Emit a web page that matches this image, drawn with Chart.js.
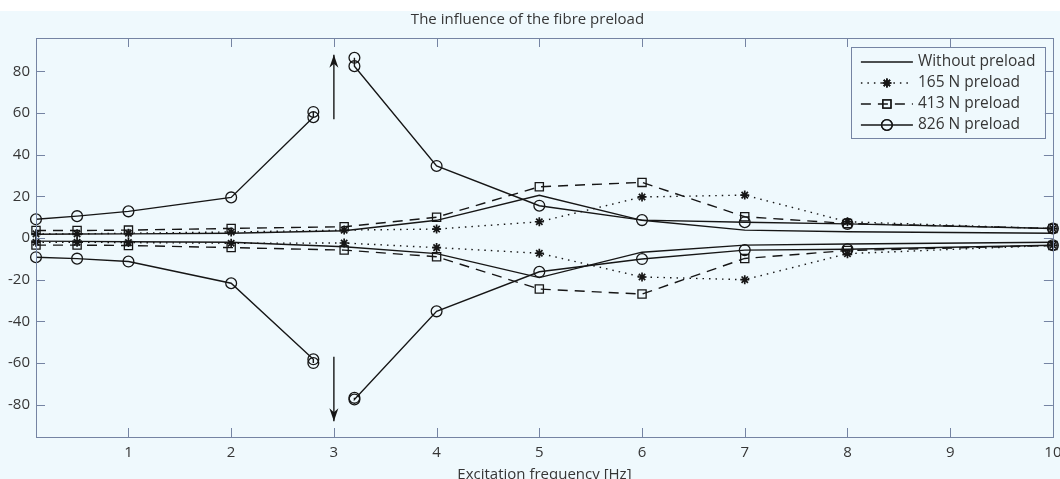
<!DOCTYPE html>
<html>
<head>
<meta charset="utf-8">
<title>The influence of the fibre preload</title>
<script src="https://cdn.jsdelivr.net/npm/chart.js@4.4.0/dist/chart.umd.min.js"></script>
<style>
  html, body { margin: 0; padding: 0; background: #ffffff; }
  #chart { display: block; }
</style>
</head>
<body>
<canvas id="chart" width="1060" height="479"></canvas>
<script>
// excitation frequencies [Hz]
const freq = [0.1, 0.5, 1, 2, 3.1, 4, 5, 6, 7, 8, 10];
const freq826 = [0.1, 0.5, 1, 2, 2.8, 2.8, 3, 3.2, 3.2, 4, 5, 6, 7, 8, 10];

// upper / lower envelopes
const noPreloadUp = [1.8, 1.9, 2, 2.3, 3.5, 8.5, 20.5, 8.5, 3.8, 3, 2.3];
const noPreloadLow = [-1.5, -1.6, -1.8, -2, -4.2, -7.5, -19, -6.8, -3.4, -2.9, -2];
const p165Up = [2, 2, 2.3, 2.9, 3.8, 4.3, 7.8, 19.7, 20.6, 7.8, 4.5];
const p165Low = [-2, -2, -2.2, -2.5, -2.4, -4.6, -7.3, -18.7, -20, -7.5, -3.5];
const p413Up = [3.6, 3.6, 3.8, 4.6, 5.4, 10, 24.6, 26.7, 10.2, 7, 4.6];
const p413Low = [-3.4, -3.4, -3.6, -4.6, -5.8, -9, -24.5, -26.9, -9.8, -6, -3.6];
const p826Up = [9, 10.5, 12.8, 19.5, 58, 60.5, null, 86.5, 82.5, 34.6, 15.5, 8.6, 7.6, 6.8, 4.6];
const p826Low = [-9.2, -9.9, -11.3, -21.7, -58.2, -60, null, -76.7, -77.5, -35.2, -16.2, -10.1, -5.8, -5.4, -3.5];

// resonance arrows at 3 Hz
const arrowX = 3;
const arrowUp = [57, 88];
const arrowDown = [-57, -88];

const xTicks = [1, 2, 3, 4, 5, 6, 7, 8, 9, 10];
const yTicks = [-80, -60, -40, -20, 0, 20, 40, 60, 80];

const ink = '#161616';
const axisColor = '#7584a3';
const textColor = '#363636';
const bgColor = '#eff9fd';
const fontFamily = '"Open Sans", "DejaVu Sans", sans-serif';

function toPoints(xs, ys) {
  return xs.map((x, i) => ({ x: x, y: ys[i] }));
}

const styles = {
  none: { borderDash: [], pointStyle: 'circle', pointRadius: 0 },
  p165: { borderDash: [1.5, 5], pointStyle: 'star', pointRadius: 4.5 },
  p413: { borderDash: [10, 7], pointStyle: 'rect', pointRadius: 5.8 },
  p826: { borderDash: [], pointStyle: 'circle', pointRadius: 5.4 }
};

function makeSet(label, xs, ys, st, inLegend) {
  return {
    label: label,
    inLegend: inLegend,
    data: toPoints(xs, ys),
    borderColor: ink,
    borderWidth: 1.4,
    borderDash: st.borderDash,
    pointStyle: st.pointStyle,
    pointRadius: st.pointRadius,
    pointHoverRadius: st.pointRadius,
    pointBorderColor: ink,
    pointBackgroundColor: 'rgba(0,0,0,0)',
    pointBorderWidth: st.pointStyle === 'star' ? 1.7 : 1.3,
    fill: false,
    tension: 0,
    spanGaps: false,
    clip: false
  };
}

const datasets = [
  makeSet('Without preload', freq, noPreloadUp, styles.none, true),
  makeSet('Without preload', freq, noPreloadLow, styles.none, false),
  makeSet('165 N preload', freq, p165Up, styles.p165, true),
  makeSet('165 N preload', freq, p165Low, styles.p165, false),
  makeSet('413 N preload', freq, p413Up, styles.p413, true),
  makeSet('413 N preload', freq, p413Low, styles.p413, false),
  makeSet('826 N preload', freq826, p826Up, styles.p826, true),
  makeSet('826 N preload', freq826, p826Low, styles.p826, false),
  makeSet('arrow', [arrowX, arrowX], arrowUp, styles.none, false),
  makeSet('arrow', [arrowX, arrowX], arrowDown, styles.none, false)
];

function drawArrowHead(ctx, x, yTip, dir) {
  // dir = -1 points up, +1 points down (canvas coordinates)
  const len = 13, half = 4.5, notch = 9;
  ctx.beginPath();
  ctx.moveTo(x, yTip);
  ctx.lineTo(x - half, yTip - dir * len);
  ctx.lineTo(x, yTip - dir * notch);
  ctx.lineTo(x + half, yTip - dir * len);
  ctx.closePath();
  ctx.fill();
}

function strokeMarker(ctx, style, r, x, y) {
  if (!r) return;
  Chart.helpers.drawPoint(ctx, { pointStyle: style, rotation: 0, radius: r, borderWidth: 1.3 }, x, y);
  ctx.stroke();
}

const framePlugin = {
  id: 'frame',
  beforeDraw(chart) {
    const ctx = chart.ctx;
    ctx.save();
    ctx.fillStyle = '#ffffff';
    ctx.fillRect(0, 0, chart.width, chart.height);
    ctx.fillStyle = bgColor;
    ctx.fillRect(0, 11, chart.width, chart.height - 11);
    ctx.restore();
  },
  afterDraw(chart) {
    const ctx = chart.ctx;
    const a = chart.chartArea;
    const xs = chart.scales.x, ys = chart.scales.y;
    ctx.save();

    // box and inward ticks
    ctx.strokeStyle = axisColor;
    ctx.lineWidth = 1;
    ctx.strokeRect(Math.round(a.left) + 0.5, Math.round(a.top) + 0.5, Math.round(a.right - a.left), Math.round(a.bottom - a.top));
    const tl = 9;
    ctx.beginPath();
    xTicks.forEach(v => {
      const px = Math.round(xs.getPixelForValue(v)) + 0.5;
      ctx.moveTo(px, a.bottom); ctx.lineTo(px, a.bottom - tl);
      ctx.moveTo(px, a.top); ctx.lineTo(px, a.top + tl);
    });
    yTicks.forEach(v => {
      const py = Math.round(ys.getPixelForValue(v)) + 0.5;
      ctx.moveTo(a.left, py); ctx.lineTo(a.left + tl, py);
      ctx.moveTo(a.right, py); ctx.lineTo(a.right - tl, py);
    });
    ctx.stroke();

    // arrow heads
    ctx.fillStyle = ink;
    const ax = xs.getPixelForValue(arrowX);
    drawArrowHead(ctx, ax, ys.getPixelForValue(arrowUp[1]), -1);
    drawArrowHead(ctx, ax, ys.getPixelForValue(arrowDown[1]), 1);

    // x axis title
    ctx.fillStyle = textColor;
    ctx.font = '15px ' + fontFamily;
    ctx.textAlign = 'center';
    ctx.textBaseline = 'middle';
    ctx.fillText('Excitation frequency [Hz]', (a.left + a.right) / 2, 475);

    // legend
    const entries = chart.data.datasets.filter(d => d.inLegend);
    const boxW = 194, boxH = 91;
    const bx = a.right - 8 - boxW, by = a.top + 9;
    ctx.fillStyle = bgColor;
    ctx.fillRect(bx, by, boxW, boxH);
    ctx.strokeStyle = axisColor;
    ctx.lineWidth = 1;
    ctx.strokeRect(Math.round(bx) + 0.5, Math.round(by) + 0.5, boxW, boxH);
    entries.forEach((d, i) => {
      const ry = by + 15 + i * 21;
      ctx.strokeStyle = ink;
      ctx.lineWidth = 1.4;
      ctx.setLineDash(d.borderDash);
      ctx.beginPath();
      ctx.moveTo(bx + 10, ry); ctx.lineTo(bx + 62, ry);
      ctx.stroke();
      ctx.setLineDash([]);
      ctx.fillStyle = 'rgba(0,0,0,0)';
      ctx.lineWidth = d.pointBorderWidth;
      strokeMarker(ctx, d.pointStyle, d.pointRadius, bx + 36, ry);
      ctx.fillStyle = textColor;
      ctx.font = '15.5px ' + fontFamily;
      ctx.textAlign = 'left';
      ctx.textBaseline = 'middle';
      ctx.fillText(d.label, bx + 67, ry);
    });
    ctx.restore();
  }
};

new Chart(document.getElementById('chart'), {
  type: 'line',
  data: { datasets: datasets },
  options: {
    responsive: false,
    animation: false,
    layout: { padding: { left: 0, right: 5, top: 0, bottom: 0 } },
    plugins: {
      legend: { display: false },
      tooltip: { enabled: false },
      title: {
        display: true,
        text: 'The influence of the fibre preload',
        color: textColor,
        font: { family: fontFamily, size: 15, weight: 'normal' },
        padding: { top: 11, bottom: 9 }
      }
    },
    scales: {
      x: {
        type: 'linear',
        min: 0.1,
        max: 10,
        afterBuildTicks: s => { s.ticks = xTicks.map(v => ({ value: v })); },
        afterFit: s => { s.height = 42; s.paddingLeft = 0; s.paddingRight = 0; },
        grid: { display: false, drawTicks: false },
        border: { display: false },
        ticks: { color: textColor, padding: 7, font: { family: fontFamily, size: 15 } }
      },
      y: {
        type: 'linear',
        min: -95.5,
        max: 96,
        afterBuildTicks: s => { s.ticks = yTicks.map(v => ({ value: v })); },
        afterFit: s => { s.width = 36; s.paddingTop = 0; s.paddingBottom = 0; },
        grid: { display: false, drawTicks: false },
        border: { display: false },
        ticks: { color: textColor, padding: 6, font: { family: fontFamily, size: 15 } }
      }
    }
  },
  plugins: [framePlugin]
});
</script>
</body>
</html>
